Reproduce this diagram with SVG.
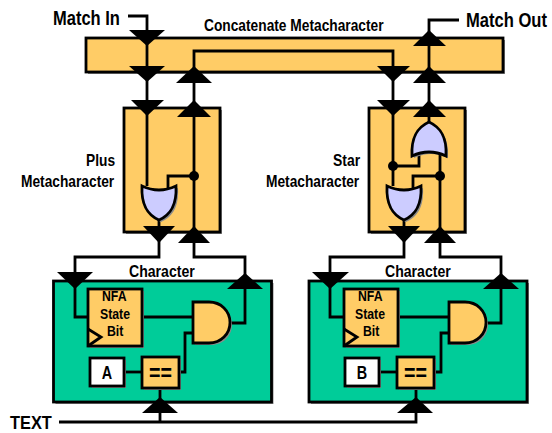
<svg xmlns="http://www.w3.org/2000/svg" width="552" height="433" viewBox="0 0 552 433">
<style>
.s{fill:#8a8a8a;stroke:none}
.o{fill:#FFCC66;stroke:#000;stroke-width:2.8}
.g{fill:#00CC99;stroke:#000;stroke-width:2.8}
.w{fill:#fff;stroke:#000;stroke-width:2.8}
.l{fill:#CCCCFF;stroke:#000;stroke-width:2.8}
.c{fill:none;stroke:#000;stroke-width:2.8}
.a{fill:#000;stroke:none}
text{font-family:"Liberation Sans",Arial,sans-serif;font-weight:bold;fill:#000;font-size:16px}
.big{font-size:20px}
.txt{font-size:18px}
.nfa{font-size:15px}
.eq{font-size:24px}
.let{font-size:18px;text-anchor:middle}
</style>
<defs>
<path id="or" d="M-17,0Q0,8 17,0C18,20 11,29 0,34C-11,29 -18,20 -17,0Z"/>
<path id="andg" d="M0,0H16C28,0 37,9 37,20.500C37,32 28,41 16,41H0Z"/>
</defs>

<g id="concat">
<rect class="s" x="88" y="40" width="417" height="34"/>
<rect class="o" x="86" y="38" width="417" height="34"/>
<text transform="translate(204 31) scale(.86 1)">Concatenate Metacharacter</text>
</g>

<g id="plus">
<rect class="s" x="126" y="110" width="96" height="124"/>
<rect class="o" x="124" y="108" width="96" height="124"/>
<text transform="translate(86 166) scale(.86 1)">Plus</text>
<text transform="translate(21 187) scale(.86 1)">Metacharacter</text>
</g>

<g id="star">
<rect class="s" x="371" y="110" width="96" height="124"/>
<rect class="o" x="369" y="108" width="96" height="124"/>
<text transform="translate(333 166) scale(.87 1)">Star</text>
<text transform="translate(266 187) scale(.86 1)">Metacharacter</text>
</g>

<g id="char1">
<rect class="s" x="55.500" y="283" width="218" height="121"/>
<rect class="g" x="53.500" y="281" width="218" height="121"/>
<text transform="translate(129 277) scale(.88 1)">Character</text>
</g>
<g id="char2">
<rect class="s" x="311" y="283" width="218" height="121"/>
<rect class="g" x="309" y="281" width="218" height="121"/>
<text transform="translate(385 277) scale(.88 1)">Character</text>
</g>

<g id="connectors">
<path class="c" d="M128,16H147V30"/>
<path class="c" d="M147,40V186"/>
<path class="c" d="M194,240V51H393V186"/>
<path class="c" d="M194,176H168V190"/>
<path class="c" d="M159,215V257H75V317H88"/>
<path class="c" d="M194,235V257H245V323H230"/>
<path class="c" d="M142,317H193"/>
<path class="c" d="M193,333H185V372H179"/>
<path class="c" d="M124,372H142"/>
<path class="c" d="M160,388V422"/>
<path class="c" d="M59,422H416V388"/>
<path class="c" d="M459,20H429V125"/>
<path class="c" d="M393,166H419V152"/>
<path class="c" d="M440,152V240"/>
<path class="c" d="M440,176H413V190"/>
<path class="c" d="M404,215V257H330V317H344"/>
<path class="c" d="M440,235V257H501V323H486"/>
<path class="c" d="M398,317H449"/>
<path class="c" d="M449,333H441V372H435"/>
<path class="c" d="M380,372H398"/>
<circle class="a" cx="194" cy="176" r="5"/>
<circle class="a" cx="393" cy="166" r="5"/>
<circle class="a" cx="440" cy="176" r="5"/>
</g>

<g id="or-plus">
<use href="#or" class="s" x="161" y="188"/>
<use href="#or" class="l" x="159" y="186"/>
</g>
<g id="or-star-low">
<use href="#or" class="s" x="406" y="188"/>
<use href="#or" class="l" x="404" y="186"/>
</g>
<g id="or-star-up">
<use href="#or" class="s" transform="translate(431,158) scale(1,-1)"/>
<use href="#or" class="l" transform="translate(429,156) scale(1,-1)"/>
</g>

<g id="nfa1">
<rect class="s" x="90" y="291" width="54" height="57"/>
<rect class="o" x="88" y="289" width="54" height="57"/>
<path class="c" d="M88,329L101,337L88,346"/>
<text class="nfa" transform="translate(102 301) scale(.82 1)">NFA</text>
<text class="nfa" transform="translate(100 319) scale(.82 1)">State</text>
<text class="nfa" transform="translate(107 336) scale(.82 1)">Bit</text>
</g>
<g id="nfa2">
<rect class="s" x="346" y="291" width="54" height="57"/>
<rect class="o" x="344" y="289" width="54" height="57"/>
<path class="c" d="M344,329L357,337L344,346"/>
<text class="nfa" transform="translate(358 301) scale(.82 1)">NFA</text>
<text class="nfa" transform="translate(355 319) scale(.82 1)">State</text>
<text class="nfa" transform="translate(363 336) scale(.82 1)">Bit</text>
</g>

<g id="and1">
<use href="#andg" class="s" x="195" y="304"/>
<use href="#andg" class="o" x="193" y="302"/>
</g>
<g id="and2">
<use href="#andg" class="s" x="451" y="304"/>
<use href="#andg" class="o" x="449" y="302"/>
</g>

<g id="val-a">
<rect class="s" x="92" y="360" width="34" height="28"/>
<rect class="w" x="90" y="358" width="34" height="28"/>
<text class="let" transform="translate(107 379) scale(.8 1)">A</text>
</g>
<g id="val-b">
<rect class="s" x="347" y="360" width="34" height="28"/>
<rect class="w" x="345" y="358" width="34" height="28"/>
<text class="let" transform="translate(362 379) scale(.8 1)">B</text>
</g>

<g id="cmp1">
<rect class="s" x="144" y="359" width="37" height="31"/>
<rect class="o" x="142" y="357" width="37" height="31"/>
<text class="eq" transform="translate(149 381) scale(.82 1)">==</text>
</g>
<g id="cmp2">
<rect class="s" x="399" y="359" width="37" height="31"/>
<rect class="o" x="397" y="357" width="37" height="31"/>
<text class="eq" transform="translate(404 381) scale(.82 1)">==</text>
</g>

<g id="arrows">
<path class="a" d="M129,30H165L147,46Z"/>
<path class="a" d="M129,66H165L147,82Z"/>
<path class="a" d="M131,100H164L147,116Z"/>
<path class="a" d="M176,83H212L194,66Z"/>
<path class="a" d="M177,117H211L194,100Z"/>
<path class="a" d="M143,226H175L159,243Z"/>
<path class="a" d="M178,243H210L194,226Z"/>
<path class="a" d="M57,272H93L75,289Z"/>
<path class="a" d="M227,289H263L245,273Z"/>
<path class="a" d="M142,413H178L160,397Z"/>
<path class="a" d="M377,66H410L393,82Z"/>
<path class="a" d="M377,100H410L393,116Z"/>
<path class="a" d="M413,46H446L429,30Z"/>
<path class="a" d="M413,83H446L429,66Z"/>
<path class="a" d="M413,117H446L429,100Z"/>
<path class="a" d="M388,226H420L404,243Z"/>
<path class="a" d="M424,243H456L440,226Z"/>
<path class="a" d="M312,272H349L330,289Z"/>
<path class="a" d="M483,289H519L501,273Z"/>
<path class="a" d="M397,413H433L416,397Z"/>
</g>

<g id="labels">
<text class="big" transform="translate(53 25) scale(.826 1)">Match In</text>
<text class="big" transform="translate(466 27) scale(.828 1)">Match Out</text>
<text class="txt" transform="translate(10 429) scale(.91 1)">TEXT</text>
</g>
</svg>
